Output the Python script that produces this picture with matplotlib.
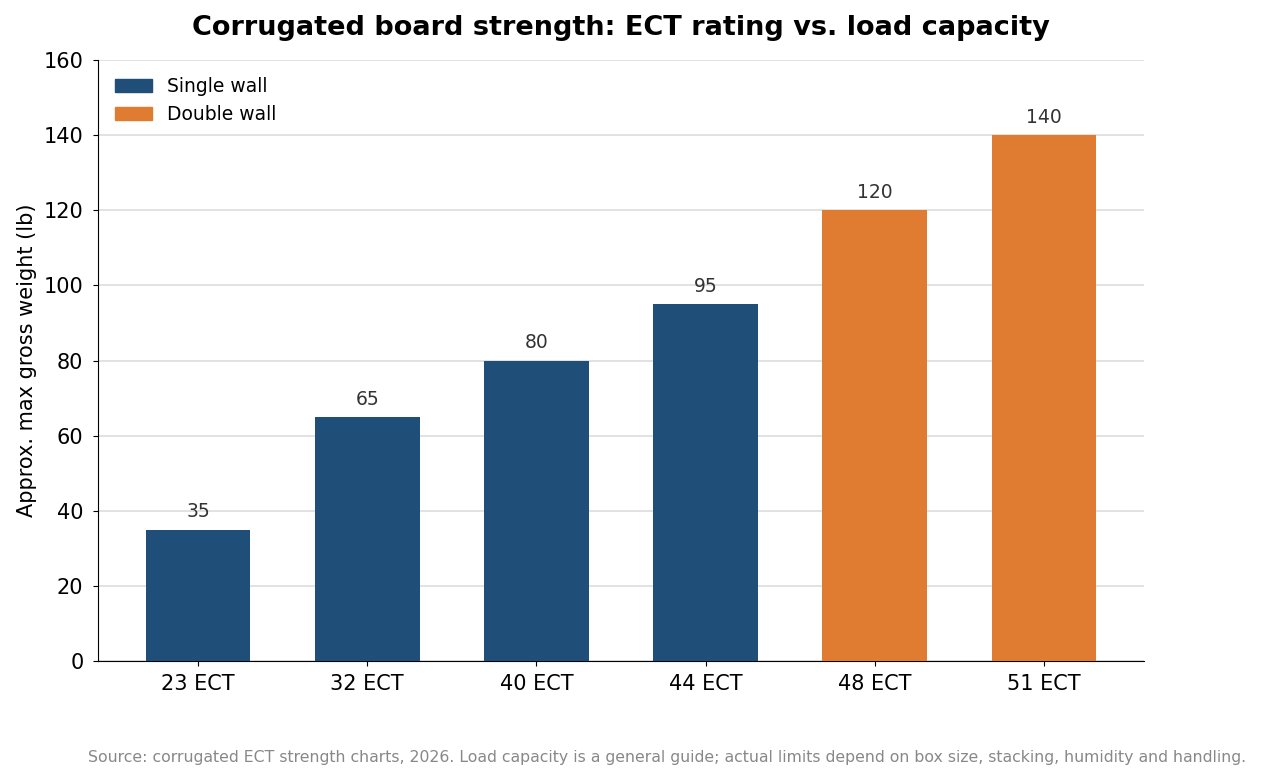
import matplotlib
matplotlib.use("Agg")
import matplotlib.pyplot as plt
from matplotlib.patches import Patch

# ECT ratings and approximate load capacity
categories = ['23 ECT', '32 ECT', '40 ECT', '44 ECT', '48 ECT', '51 ECT']
max_weight = [35, 65, 80, 95, 120, 140]
wall_type = ['Single wall', 'Single wall', 'Single wall', 'Single wall',
             'Double wall', 'Double wall']

COLORS = {'Single wall': '#1f4e79', 'Double wall': '#e07b32'}

fig = plt.figure(figsize=(12.61, 7.80), dpi=100)
ax = fig.add_axes([0.0777, 0.1526, 0.8295, 0.7704])

x = range(len(categories))
bars = ax.bar(x, max_weight, width=0.62,
              color=[COLORS[w] for w in wall_type], zorder=3)

for b, v in zip(bars, max_weight):
    ax.annotate(str(v), (b.get_x() + b.get_width() / 2, v),
                xytext=(0, 6), textcoords='offset points',
                ha='center', va='bottom', fontsize=13.5, color='#333333')

ax.set_xticks(list(x))
ax.set_xticklabels(categories, fontsize=15)
ax.tick_params(axis='x', pad=6)
ax.set_ylim(0, 160)
ax.set_yticks(range(0, 161, 20))
ax.tick_params(axis='y', labelsize=15, pad=7)
ax.set_ylabel('Approx. max gross weight (lb)', fontsize=15, labelpad=5)
ax.grid(axis='y', color='#dddddd', linewidth=1.2, zorder=0)
ax.spines['top'].set_visible(False)
ax.spines['right'].set_visible(False)

ax.set_title('Corrugated board strength: ECT rating vs. load capacity',
             fontsize=19.5, fontweight='bold', pad=18)

handles = [Patch(color=COLORS['Single wall'], label='Single wall'),
           Patch(color=COLORS['Double wall'], label='Double wall')]
ax.legend(handles=handles, loc='upper left', frameon=False, fontsize=13.5)

fig.text(0.988, 0.023,
         'Source: corrugated ECT strength charts, 2026. Load capacity is a general guide; '
         'actual limits depend on box size, stacking, humidity and handling.',
         ha='right', fontsize=11.3, color='#888888')

fig.savefig('out.png', dpi=100)
